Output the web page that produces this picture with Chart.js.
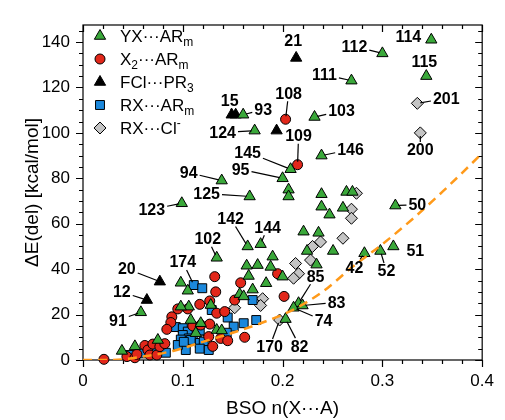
<!DOCTYPE html>
<html lang="en">
<head>
<meta charset="UTF-8">
<title>Deletion energy vs BSO</title>
<script src="https://cdn.jsdelivr.net/npm/chart.js"></script>
<style>
  body { margin: 0; background: #fff; }
  #wrap { width: 505px; height: 420px; }
</style>
</head>
<body>
<div id="wrap"><canvas id="bsoChart" width="505" height="420"></canvas></div>
<script>
// YX...ARm (green triangles)
const yxX = [0.349, 0.300, 0.344, 0.269, 0.232, 0.239, 0.1605, 0.172, 0.208, 0.200, 0.206, 0.206, 0.139, 0.167, 0.099,
  0.165, 0.178, 0.134, 0.058, 0.313, 0.311, 0.298, 0.282, 0.216, 0.220, 0.211, 0.203,
  0.239, 0.264, 0.270, 0.239, 0.247, 0.2605, 0.221, 0.236, 0.2506, 0.2245, 0.234, 0.190, 0.164, 0.175, 0.188, 0.200,
  0.1835, 0.166, 0.170, 0.157, 0.161, 0.098, 0.105, 0.106, 0.098, 0.108, 0.118, 0.128, 0.113, 0.134, 0.139,
  0.039, 0.052, 0.075];
const yxY = [141, 135, 125, 123, 107, 90, 108, 101, 84, 80, 75, 72, 79, 72, 69,
  50, 51, 45, 21, 68, 50, 48, 47, 25, 24, 23, 18,
  73, 74, 74, 67.5, 64, 67, 56.5, 56, 48, 48, 42, 45.5, 41.5, 41.8, 41, 36.7,
  33.8, 37, 31, 29, 28, 34, 30.5, 23.5, 23.5, 17.6, 16.2, 24.2, 11.8, 13.2, 13,
  4, 6, 8.8];

// X2...ARm (red circles)
const x2X = [0.203, 0.215, 0.021, 0.044, 0.052, 0.054, 0.062, 0.065, 0.067, 0.070, 0.074, 0.077, 0.082,
  0.095, 0.089, 0.088, 0.084, 0.105, 0.117, 0.127, 0.134, 0.142, 0.132, 0.133, 0.158, 0.152, 0.195, 0.2015,
  0.110, 0.118, 0.127, 0.126, 0.130, 0.138, 0.145, 0.162];
const x2Y = [106, 86, 0.3, 1.5, 1, 2.5, 6.4, 4.4, 2.2, 7, 2.2, 5.9, 7.2,
  22.5, 19, 16.5, 13.5, 22.5, 24.5, 26, 20.6, 21.3, 36.7, 30, 34, 26.4, 38, 28,
  15, 15.4, 15.8, 10.3, 6, 9.5, 8.5, 10];

// FCl...PR3 (black triangles)
const fclX = [0.2136, 0.149, 0.153, 0.194, 0.077, 0.064];
const fclY = [133, 108, 108, 101, 34.5, 26.4];

// RX...ARm (blue squares)
const rxX = [0.111, 0.1195, 0.129, 0.145, 0.170, 0.1736, 0.161, 0.151, 0.144, 0.093,
  0.100, 0.110, 0.105, 0.117, 0.100, 0.106, 0.098, 0.108, 0.117, 0.121,
  0.117, 0.103, 0.126, 0.095, 0.101, 0.047, 0.059, 0.072, 0.083];
const rxY = [33, 31.6, 22, 18.7, 26.4, 17.6, 16.2, 14.7, 12, 14.5,
  14, 11, 12.5, 13, 11, 9.5, 9, 8.8, 7.5, 8.1,
  5, 4.4, 4.4, 6.6, 8, 2.2, 2.9, 4.4, 3.2];

// RX...Cl- (grey diamonds)
const clX = [0.335, 0.338, 0.197, 0.274, 0.269, 0.269, 0.2605, 0.238, 0.230, 0.228, 0.213, 0.216, 0.211, 0.180, 0.178, 0.152, 0.120];
const clY = [113, 100, 17.6, 73.4, 66.4, 62.4, 53.6, 52, 50, 44, 42.5, 38, 36, 27, 24, 23, 8.5];

// fitted trend (orange dashed)
const fitX = [0, 0.03, 0.06, 0.09, 0.12, 0.15, 0.18, 0.21, 0.24, 0.27, 0.30, 0.33, 0.36, 0.40];
const fitY = [0, 0, 1.5, 4, 8, 12, 16.5, 22, 30, 41, 51, 62, 74, 91];

const xTicks = [0, 0.1, 0.2, 0.3, 0.4];
const yTicks = [0, 20, 40, 60, 80, 100, 120, 140];

// numbered labels: series, point index, text, offset x, offset y (px), leader line
const pointLabels = [
  ['yx', 0, '114', -23, -3, false], ['yx', 1, '112', -28, -7, true], ['yx', 2, '115', -2, -15, false],
  ['yx', 3, '111', -27, -6, true], ['yx', 4, '103', 27, -6, true], ['yx', 5, '146', 29, -6, true],
  ['yx', 6, '93', 20, -5, true], ['yx', 7, '124', -32, 2, true], ['yx', 8, '145', -43, -17, true],
  ['yx', 9, '95', -42, -9, true], ['yx', 12, '94', -33, -8, true], ['yx', 13, '125', -43, -3, true],
  ['yx', 14, '123', -30, 6, true], ['yx', 15, '142', -17, -28, true], ['yx', 16, '144', 7, -17, true],
  ['yx', 17, '102', -9, -19, true], ['yx', 18, '91', -23, 8, true], ['yx', 19, '50', 22, -1, true],
  ['yx', 20, '51', 22, 4, false], ['yx', 21, '52', 6, 20, true], ['yx', 22, '42', -10, 14, true],
  ['yx', 23, '85', 17, -27, true], ['yx', 24, '83', 34, -3, true], ['yx', 25, '74', 30, 13, true],
  ['yx', 26, '82', 14, 27, true],
  ['x2', 0, '108', 3, -26, true], ['x2', 1, '109', 1, -29, true],
  ['fcl', 0, '21', -3, -17, false], ['fcl', 1, '15', -2, -14, true], ['fcl', 4, '20', -33, -13, true],
  ['fcl', 5, '12', -25, -8, true],
  ['rx', 0, '174', -11, -23, true],
  ['cl', 0, '201', 29, -5, true], ['cl', 1, '200', 0, 17, true], ['cl', 2, '170', -10, 27, true]
];

const FONT = '"Liberation Sans", Arial, Helvetica, sans-serif';

const series = {
  yx:  { x: yxX,  y: yxY,  color: '#3aa83a', style: 'triangle', radius: 6.5, order: 1,
         legend: [['YX···AR', ''], ['m', 'sub']] },
  x2:  { x: x2X,  y: x2Y,  color: '#e2271a', style: 'circle',   radius: 5,   order: 2,
         legend: [['X', ''], ['2', 'sub'], ['···AR', ''], ['m', 'sub']] },
  fcl: { x: fclX, y: fclY, color: '#000000', style: 'triangle', radius: 6.5, order: 1,
         legend: [['FCl···PR', ''], ['3', 'sub']] },
  rx:  { x: rxX,  y: rxY,  color: '#1b88dc', style: 'rect',     radius: 6.3, order: 3,
         legend: [['RX···AR', ''], ['m', 'sub']] },
  cl:  { x: clX,  y: clY,  color: '#c4c4c4', style: 'rectRot',  radius: 6,   order: 4,
         legend: [['RX···Cl', ''], ['-', 'sup']] }
};
const seriesKeys = Object.keys(series);

function toPoints(xs, ys) {
  return xs.map((v, i) => ({ x: v, y: ys[i] }));
}

function richText(ctx, x, y, parts, size) {
  parts.forEach(([s, kind]) => {
    const fs = kind ? Math.round(size * 0.72) : size;
    ctx.font = fs + 'px ' + FONT;
    const off = kind === 'sub' ? size * 0.32 : kind === 'sup' ? -size * 0.33 : 0;
    ctx.fillText(s, x, y + off);
    x += ctx.measureText(s).width;
  });
}

// frame, ticks, numbered labels, legend and axis titles
const decorations = {
  id: 'decorations',
  beforeDatasetsDraw(chart) {
    const { ctx, chartArea: a, scales: { x, y } } = chart;
    ctx.save();
    ctx.strokeStyle = '#000';
    ctx.lineWidth = 1.2;
    ctx.strokeRect(a.left, a.top, a.right - a.left, a.bottom - a.top);
    ctx.beginPath();
    for (let i = 0; i <= 20; i++) {
      const px = Math.round(x.getPixelForValue(i * 0.02)) + 0.5;
      const len = i % 5 === 0 ? 7 : 4;
      ctx.moveTo(px, a.bottom); ctx.lineTo(px, a.bottom + len);
      ctx.moveTo(px, a.top); ctx.lineTo(px, a.top + len);
    }
    for (let v = 0; v <= 145; v += 5) {
      const py = Math.round(y.getPixelForValue(v)) + 0.5;
      const len = v % 20 === 0 ? 7 : 4;
      ctx.moveTo(a.left, py); ctx.lineTo(a.left - len, py);
      ctx.moveTo(a.right, py); ctx.lineTo(a.right - len, py);
    }
    ctx.stroke();
    ctx.restore();
  },
  afterDraw(chart) {
    const { ctx, chartArea: a } = chart;
    ctx.save();

    // numbered labels with leaders
    ctx.font = 'bold 16px ' + FONT;
    ctx.textAlign = 'center';
    ctx.textBaseline = 'middle';
    ctx.fillStyle = '#000';
    ctx.strokeStyle = '#000';
    ctx.lineWidth = 1.2;
    pointLabels.forEach(([key, idx, text, dx, dy, leader]) => {
      const el = chart.getDatasetMeta(seriesKeys.indexOf(key)).data[idx];
      const tx = el.x + dx, ty = el.y + dy;
      if (leader) {
        const w = ctx.measureText(text).width / 2 + 2, h = 8;
        const vx = el.x - tx, vy = el.y - ty;
        const dist = Math.hypot(vx, vy);
        const t0 = Math.min(vx ? w / Math.abs(vx) : Infinity, vy ? h / Math.abs(vy) : Infinity);
        const t1 = 1 - 3 / dist;
        if (t0 < t1) {
          ctx.beginPath();
          ctx.moveTo(tx + vx * t0, ty + vy * t0);
          ctx.lineTo(tx + vx * t1, ty + vy * t1);
          ctx.stroke();
        }
      }
      ctx.fillText(text, tx, ty + 1);
    });

    // legend inside the plot
    ctx.textAlign = 'left';
    ctx.lineWidth = 1;
    seriesKeys.forEach((key, i) => {
      const s = series[key];
      const ly = a.top + 11 + i * 23;
      ctx.fillStyle = s.color;
      ctx.strokeStyle = '#000';
      Chart.helpers.drawPoint(ctx, { pointStyle: s.style, radius: s.radius, rotation: 0, borderWidth: 1 }, a.left + 17, ly);
      ctx.fillStyle = '#000';
      richText(ctx, a.left + 37, ly + 1, s.legend, 17);
    });

    // axis titles
    ctx.fillStyle = '#000';
    ctx.textAlign = 'center';
    ctx.font = '19px ' + FONT;
    ctx.fillText('BSO n(X···A)', (a.left + a.right) / 2, 409);
    ctx.translate(33, (a.top + a.bottom) / 2);
    ctx.rotate(-Math.PI / 2);
    ctx.fillText('ΔE(del) [kcal/mol]', 0, 0);
    ctx.restore();
  }
};

const datasets = seriesKeys.map(key => {
  const s = series[key];
  return {
    label: key,
    data: toPoints(s.x, s.y),
    pointStyle: s.style,
    pointRadius: s.radius,
    pointBackgroundColor: s.color,
    pointBorderColor: '#000',
    pointBorderWidth: 1,
    showLine: false,
    clip: false,
    order: s.order
  };
});
datasets.push({
  type: 'line',
  label: 'fit',
  data: toPoints(fitX, fitY),
  borderColor: '#ff9a1a',
  borderWidth: 2.5,
  borderDash: [9, 6],
  pointRadius: 0,
  cubicInterpolationMode: 'monotone',
  fill: false,
  order: 0
});

new Chart(document.getElementById('bsoChart'), {
  type: 'scatter',
  data: { datasets },
  options: {
    responsive: false,
    animation: false,
    events: [],
    layout: { padding: { top: 25, right: 15, left: 0, bottom: 0 } },
    plugins: { legend: { display: false }, tooltip: { enabled: false } },
    scales: {
      x: {
        type: 'linear', min: 0, max: 0.4,
        grid: { display: false, drawTicks: false },
        border: { display: false },
        afterFit: s => { s.height = 60; },
        afterBuildTicks: s => { s.ticks = xTicks.map(v => ({ value: v })); },
        ticks: {
          padding: 11, color: '#000', font: { family: FONT, size: 17 },
          callback: v => String(Math.round(v * 10) / 10)
        }
      },
      y: {
        type: 'linear', min: 0, max: 147.5,
        grid: { display: false, drawTicks: false },
        border: { display: false },
        afterFit: s => { s.width = 83; },
        afterBuildTicks: s => { s.ticks = yTicks.map(v => ({ value: v })); },
        ticks: { padding: 13, color: '#000', font: { family: FONT, size: 17 } }
      }
    }
  },
  plugins: [decorations]
});
</script>
</body>
</html>
